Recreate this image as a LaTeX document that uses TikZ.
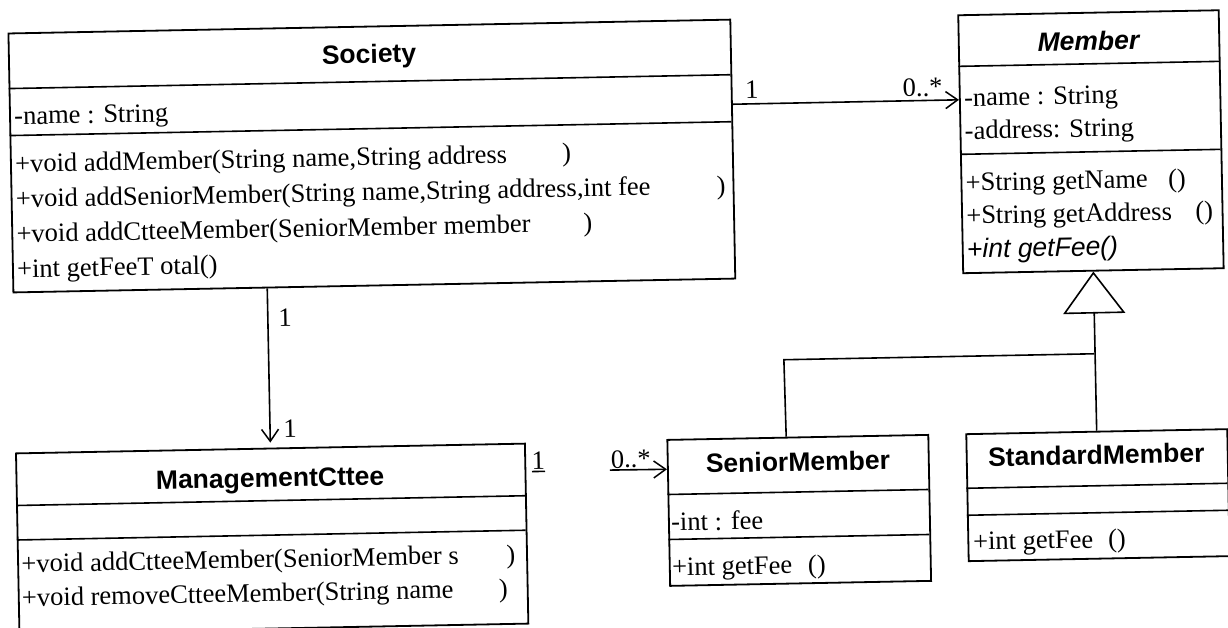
\documentclass[tikz,border=0pt]{standalone}
\usepackage{fontspec}
\setmainfont{Liberation Serif}
\setsansfont{Liberation Sans}
\usetikzlibrary{arrows.meta,calc}
\tikzset{
  classbox/.style={draw, line width=1.8pt, rectangle, inner sep=0pt, anchor=north west},
  divider/.style={line width=1.6pt},
  tx/.style={font=\fontsize{26.5}{30}\selectfont, inner sep=0pt, text height=18pt, text depth=0pt, anchor=west},
  ttl/.style={font=\sffamily\bfseries\fontsize{26.5}{30}\selectfont, inner sep=0pt, text height=19pt, text depth=0pt},
  lbl/.style={font=\fontsize{26.5}{30}\selectfont, inner sep=0pt, text height=18pt, text depth=0pt},
  conn/.style={line width=1.6pt},
  nav/.style={conn, -{Straight Barb[length=12pt,width=17pt,line width=1.5pt]}},
  gen/.style={conn, -{Triangle[open,length=42pt,width=62pt,line width=1.6pt]}},
}
\begin{document}
\begin{tikzpicture}[x=1pt,y=-1pt]
\useasboundingbox (0,0) rectangle (1228,627);
\clip (0,0) rectangle (1228,627);
\begin{scope}[rotate around={1.1:(614,313)}, transform shape]
% ---------- Society ----------
\node[classbox, minimum width=722pt, minimum height=259pt] (soc) at (13,21) {};
\draw[divider] (13,77) -- (735,77);
\draw[divider] (13,124) -- (735,124);
\node[ttl] (soc-t) at (374,49) {Society};
\node[tx] (soc-a1) at (18,104) {-name : String};
\node[tx] (soc-m1) at (18,152) {\makebox[547pt][l]{+void addMember(String name,String address})};
\node[tx] (soc-m2) at (18,187) {\makebox[701pt][l]{+void addSeniorMember(String name,String address,int fee})};
\node[tx] (soc-m3) at (18,222) {\makebox[567pt][l]{+void addCtteeMember(SeniorMember member})};
\node[tx] (soc-m4) at (18,257) {+int getFeeT otal()};
% ---------- Member ----------
\node[classbox, minimum width=260.5pt, minimum height=258pt] (mem) at (963,21) {};
\draw[divider] (963,73) -- (1223.5,73);
\draw[divider] (963,161) -- (1223.5,161);
\node[ttl, font=\sffamily\bfseries\itshape\fontsize{26.5}{30}\selectfont] (mem-t) at (1093.5,50) {Member};
\node[tx] (mem-a1) at (968,104) {-name : String};
\node[tx] (mem-a2) at (968,137) {-address: String};
\node[tx] (mem-m1) at (968,189) {\makebox[202.5pt][l]{+String getName}()};
\node[tx] (mem-m2) at (968,222) {\makebox[229pt][l]{+String getAddress}()};
\node[tx, font=\sffamily\itshape\fontsize{26.5}{30}\selectfont] (mem-m3) at (968,256) {+int getFee()};
% ---------- ManagementCttee ----------
\node[classbox, minimum width=509pt, minimum height=180pt] (mgt) at (12.5,441) {};
\draw[divider] (12.5,494) -- (521.5,494);
\draw[divider] (12.5,528.5) -- (521.5,528.5);
\node[ttl] (mgt-t) at (267,471) {ManagementCttee};
\node[tx] (mgt-m1) at (16.5,552) {\makebox[485pt][l]{+void addCtteeMember(SeniorMember s})};
\node[tx] (mgt-m2) at (16.5,586) {\makebox[477pt][l]{+void removeCtteeMember(String name})};
% ---------- SeniorMember ----------
\node[classbox, minimum width=261pt, minimum height=146pt] (sen) at (664,440) {};
\draw[divider] (664,495.5) -- (925,495.5);
\draw[divider] (664,540.5) -- (925,540.5);
\node[ttl] (sen-t) at (795,465) {SeniorMember};
\node[tx] (sen-a1) at (667,523) {-int : fee};
\node[tx] (sen-m1) at (667,568) {\makebox[136pt][l]{+int getFee}()};
% ---------- StandardMember ----------
\node[classbox, minimum width=261pt, minimum height=127pt] (std) at (963,440) {};
\draw[divider] (963,495) -- (1224,495);
\draw[divider] (963,522) -- (1224,522);
\node[ttl] (std-t) at (1093.5,464) {StandardMember};
\node[tx] (std-m1) at (968.5,548) {\makebox[135pt][l]{+int getFee}()};
% ---------- Society -> Member ----------
\draw[nav] ($(soc.north east)!0.328!(soc.south east)$) -- ($(mem.north west)!0.329!(mem.south west)$);
\node[lbl] (l-soc1) at (756,92) {1};
\node[lbl, anchor=east] (l-mem0) at (947,93) {0..*};
% ---------- Society -> ManagementCttee ----------
\draw[nav, shorten >=5pt] ($(soc.south west)!0.352!(soc.south east)$) -- (mgt.north);
\node[lbl] (l-soc2) at (285,311) {1};
\node[lbl] (l-mgt1) at (288,422) {1};
% ---------- ManagementCttee -> SeniorMember ----------
\coordinate (u1a) at (529,470);
\coordinate (u1b) at (542,470);
\coordinate (u2a) at (607,470);
\draw[conn] (u1a) -- (u1b);
\draw[nav] (u2a) -- ($(sen.north west)!0.205!(sen.south west)$);
\node[lbl] (l-mgt2) at (535.5,459) {1};
\node[lbl] (l-sen0) at (628,459) {0..*};
% ---------- Generalization ----------
\coordinate (jl) at (783,363);
\coordinate (jr) at (1093.5,363);
\draw[conn] ($(sen.north west)!0.456!(sen.north east)$) -- (jl) -- (jr);
\draw[gen] (std.north) -- (mem.south);
\end{scope}
\end{tikzpicture}
\end{document}
